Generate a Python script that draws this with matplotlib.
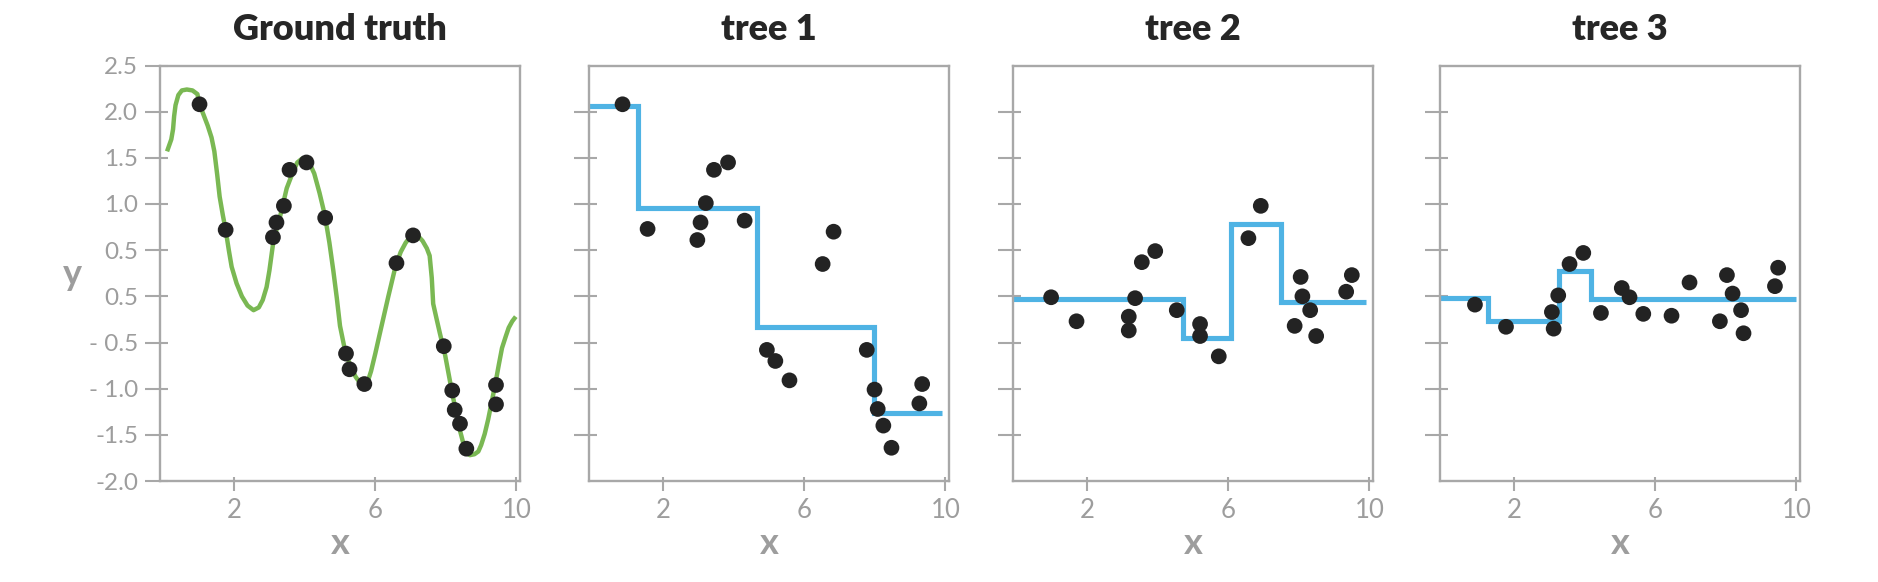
import numpy as np
import matplotlib.pyplot as plt
from matplotlib.ticker import FixedLocator

# ground truth curve (traced) and sample points
curve_x = [0.10, 0.22, 0.27, 0.30, 0.34, 0.42, 0.52, 0.66, 0.82, 0.96, 1.02, 1.12, 1.25, 1.36,
           1.44, 1.52, 1.59, 1.68, 1.76, 1.85, 1.93, 2.07, 2.22, 2.38, 2.55, 2.70, 2.81, 2.92,
           3.00, 3.10, 3.20, 3.30, 3.49, 3.65, 3.79, 3.92, 4.03, 4.15, 4.27, 4.42, 4.57, 4.70,
           4.81, 4.91, 5.00, 5.15, 5.30, 5.44, 5.57, 5.69, 5.78, 5.88, 6.00, 6.13, 6.25, 6.37,
           6.57, 6.72, 6.86, 6.98, 7.10, 7.22, 7.34, 7.46, 7.54, 7.60, 7.64, 7.74, 7.83, 7.98,
           8.18, 8.37, 8.50, 8.57, 8.68, 8.81, 8.92, 9.00, 9.10, 9.20, 9.39, 9.50, 9.59, 9.70,
           9.78, 9.88, 9.98]
curve_y = [1.57, 1.70, 1.81, 1.95, 2.07, 2.18, 2.23, 2.24, 2.23, 2.19, 2.08, 1.98, 1.85, 1.72,
           1.57, 1.32, 1.08, 0.88, 0.72, 0.50, 0.32, 0.14, 0.00, -0.10, -0.15, -0.12, -0.04, 0.10,
           0.28, 0.56, 0.72, 0.86, 1.17, 1.33, 1.45, 1.49, 1.48, 1.43, 1.33, 1.12, 0.88, 0.58,
           0.28, -0.02, -0.32, -0.60, -0.76, -0.87, -0.94, -0.97, -0.93, -0.81, -0.62, -0.40, -0.20, 0.00,
           0.32, 0.48, 0.58, 0.64, 0.66, 0.65, 0.60, 0.52, 0.44, 0.20, -0.08, -0.25, -0.40, -0.64,
           -1.05, -1.41, -1.60, -1.69, -1.72, -1.71, -1.68, -1.61, -1.49, -1.33, -0.97, -0.74, -0.56, -0.43,
           -0.34, -0.27, -0.22]

gt_x = [1.02, 1.76, 3.10, 3.20, 3.41, 3.57, 4.05, 4.58, 5.17, 5.27,
        5.69, 6.60, 7.07, 7.94, 8.18, 8.25, 8.40, 8.58, 9.42, 9.42]
gt_y = [2.08, 0.72, 0.64, 0.80, 0.98, 1.37, 1.45, 0.85, -0.62, -0.79,
        -0.95, 0.36, 0.66, -0.54, -1.02, -1.23, -1.38, -1.65, -0.96, -1.17]

# tree 1
t1_x = [0.85, 1.56, 2.97, 3.06, 3.21, 3.44, 3.84, 4.31, 4.94, 5.18,
        5.58, 6.52, 6.83, 7.77, 7.99, 8.08, 8.24, 8.47, 9.34, 9.26]
t1_y = [2.08, 0.73, 0.61, 0.80, 1.01, 1.37, 1.45, 0.82, -0.58, -0.70,
        -0.91, 0.35, 0.70, -0.58, -1.01, -1.22, -1.40, -1.64, -0.95, -1.16]
t1_edges = [-0.1, 1.28, 4.66, 7.97, 9.91]
t1_levels = [2.06, 0.96, -0.33, -1.26]

# tree 2
t2_x = [0.98, 1.70, 3.18, 3.18, 3.36, 3.55, 3.93, 4.54, 5.20, 5.20,
        5.73, 6.57, 6.92, 8.05, 7.88, 8.10, 8.32, 8.49, 9.34, 9.50]
t2_y = [-0.01, -0.27, -0.22, -0.37, -0.02, 0.37, 0.49, -0.15, -0.30, -0.43,
        -0.65, 0.63, 0.98, 0.21, -0.32, 0.00, -0.15, -0.43, 0.05, 0.23]
t2_edges = [-0.1, 4.73, 6.07, 7.48, 9.89]
t2_levels = [-0.03, -0.45, 0.78, -0.06]

# tree 3
t3_x = [0.89, 1.77, 3.07, 3.12, 3.25, 3.57, 3.96, 4.46, 5.05, 5.27,
        5.66, 6.46, 6.97, 8.03, 7.83, 8.19, 8.43, 8.50, 9.39, 9.48]
t3_y = [-0.09, -0.33, -0.17, -0.35, 0.01, 0.35, 0.47, -0.18, 0.09, -0.01,
        -0.19, -0.21, 0.15, 0.23, -0.27, 0.03, -0.15, -0.40, 0.11, 0.31]
t3_edges = [-0.1, 1.27, 3.26, 4.18, 10.0]
t3_levels = [-0.02, -0.27, 0.27, -0.03]

titles = ['Ground truth', 'tree 1', 'tree 2', 'tree 3']
y_ticks = [-2.0, -1.5, -1.0, -0.5, 0.0, 0.5, 1.0, 1.5, 2.0, 2.5]
y_ticklabels = ['-2.0', '-1.5', '- 1.0', '- 0.5', '0.5', '0.5', '1.0', '1.5', '2.0', '2.5']
x_ticks = [2, 6, 10]
x_ticklabels = ['2', '6', '10']

GREEN = '#7ab853'
BLUE = '#4fb3e4'
DOT = '#232323'
GRAY = '#a8a8a8'
TXT = '#9d9d9d'

plt.rcParams['font.family'] = ['Lato', 'DejaVu Sans']

W, H = 1878, 582
fig = plt.figure(figsize=(W / 100, H / 100), dpi=100)

lefts = [160, 589, 1013, 1440]
ax_w, ax_top, ax_bot = 360, 65.5, 481

panels = [
    (gt_x, gt_y, None, None),
    (t1_x, t1_y, t1_edges, t1_levels),
    (t2_x, t2_y, t2_edges, t2_levels),
    (t3_x, t3_y, t3_edges, t3_levels),
]

for i, (px, py, edges, levels) in enumerate(panels):
    ax = fig.add_axes([lefts[i] / W, 1 - ax_bot / H, ax_w / W, (ax_bot - ax_top) / H])

    if i == 0:
        ax.plot(curve_x, curve_y, color=GREEN, lw=3.2, solid_capstyle='butt', zorder=2)
    else:
        ax.stairs(levels, edges, baseline=None, color=BLUE, lw=3.7, zorder=2)
    ax.scatter(px, py, s=128, color=DOT, edgecolor='none', zorder=3)

    ax.set_xlim(-0.1, 10.1)
    ax.set_ylim(-2.0, 2.5)

    for sp in ax.spines.values():
        sp.set_color(GRAY)
        sp.set_linewidth(1.7)

    ax.set_xticks(x_ticks)
    ax.set_xticklabels(x_ticklabels)
    if i == 0:
        ax.set_yticks(y_ticks)
        ax.set_yticklabels(y_ticklabels)
        ax.yaxis.set_minor_locator(FixedLocator(y_ticks))
    else:
        ax.set_yticks(y_ticks[1:-1])
        ax.set_yticklabels([])
        ax.yaxis.set_minor_locator(FixedLocator(y_ticks[1:-1]))
    ax.xaxis.set_minor_locator(FixedLocator(x_ticks))
    ax.xaxis.remove_overlapping_locs = False
    ax.yaxis.remove_overlapping_locs = False

    ax.tick_params(axis='y', which='major', direction='out', length=10.8, width=1.5,
                   color=GRAY, labelcolor=TXT, labelsize=17.5, pad=5)
    ax.tick_params(axis='y', which='minor', direction='in', length=5.5, width=1.5, color=GRAY)
    ax.tick_params(axis='x', which='major', direction='out', length=7, width=1.5,
                   color=GRAY, labelcolor=TXT, labelsize=18.5, pad=5.5)
    ax.tick_params(axis='x', which='minor', direction='in', length=2.7, width=1.5, color=GRAY)

    ax.set_title(titles[i], fontsize=26, fontweight='heavy', color='#262626', pad=18.5)
    ax.set_xlabel('x', fontsize=26, fontweight='bold', color=TXT, va='baseline')
    ax.xaxis.set_label_coords(0.5, -(553.7 - ax_bot) / (ax_bot - ax_top))
    if i == 0:
        ax.set_ylabel('y', fontsize=26, fontweight='bold', color=TXT, rotation=0,
                      va='baseline', ha='center')
        ax.yaxis.set_label_coords((72.5 - lefts[0]) / ax_w, (ax_bot - 285) / (ax_bot - ax_top))

fig.savefig('out.png', dpi=100)
